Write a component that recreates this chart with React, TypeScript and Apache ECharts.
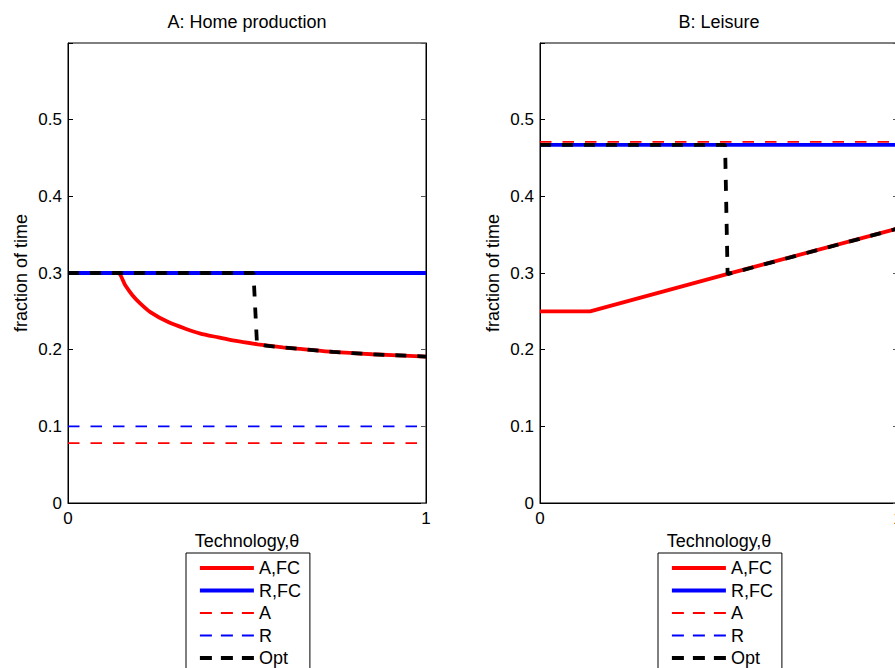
import React, { useEffect, useRef } from "react";
import * as echarts from "echarts";

const FONT = "'Liberation Sans', Arial, Helvetica, sans-serif";

const panelTitles = ["A: Home production", "B: Leisure"];
const xAxisName = "Technology,\u03b8";
const yAxisName = "fraction of time";
const seriesNames = ["A,FC", "R,FC", "A", "R", "Opt"];
const xTicks = [0, 1];
const yTicks = [0, 0.1, 0.2, 0.3, 0.4, 0.5];

// Panel A: Home production
const homeAfcTheta = [0, 0.14, 0.16, 0.18, 0.2, 0.23, 0.28, 0.33, 0.37, 0.42, 0.46, 0.53, 0.6, 0.65, 0.74, 0.85, 1];
const homeAfcValue = [0.3, 0.3, 0.284, 0.271, 0.261, 0.249, 0.236, 0.227, 0.221, 0.216, 0.212, 0.207, 0.203, 0.201, 0.197, 0.194, 0.191];
const homeFlatTheta = [0, 1];
const homeRfcValue = [0.3, 0.3];
const homeAValue = [0.078, 0.078];
const homeRValue = [0.1, 0.1];
const homeOptTheta = [0, 0.518, 0.528, 0.6, 0.65, 0.74, 0.85, 1];
const homeOptValue = [0.3, 0.3, 0.2065, 0.203, 0.201, 0.197, 0.194, 0.191];

// Panel B: Leisure
const leisAfcTheta = [0, 0.14, 0.53, 1];
const leisAfcValue = [0.25, 0.25, 0.2995, 0.358];
const leisFlatTheta = [0, 1];
const leisRfcValue = [0.467, 0.467];
const leisAValue = [0.471, 0.471];
const leisRValue = [0.467, 0.467];
const leisOptTheta = [0, 0.517, 0.524, 1];
const leisOptValue = [0.467, 0.467, 0.2985, 0.358];

const zip = (xs: number[], ys: number[]) => xs.map((x, i) => [x, ys[i]]);

const panels = [
  {
    afc: zip(homeAfcTheta, homeAfcValue),
    rfc: zip(homeFlatTheta, homeRfcValue),
    a: zip(homeFlatTheta, homeAValue),
    r: zip(homeFlatTheta, homeRValue),
    opt: zip(homeOptTheta, homeOptValue),
  },
  {
    afc: zip(leisAfcTheta, leisAfcValue),
    rfc: zip(leisFlatTheta, leisRfcValue),
    a: zip(leisFlatTheta, leisAValue),
    r: zip(leisFlatTheta, leisRValue),
    opt: zip(leisOptTheta, leisOptValue),
  },
];

const GRID_LEFT = [68, 540];
const GRID_TOP = 43;
const GRID_W = 358;
const GRID_H = 460;
const LEGEND_LEFT = [186, 658];

const THICK = 3.8;
const THIN = 1.8;
const seriesStyles: Record<string, { color: string; width: number; type: any; legendType: any }> = {
  "A,FC": { color: "#ff0000", width: THICK, type: "solid", legendType: "solid" },
  "R,FC": { color: "#0000ff", width: THICK, type: "solid", legendType: "solid" },
  A: { color: "#ff0000", width: THIN, type: [11.5, 11], legendType: [12, 9] },
  R: { color: "#0000ff", width: THIN, type: [11.5, 11], legendType: [12, 9] },
  Opt: { color: "#000000", width: THICK, type: [11, 11], legendType: [12, 9] },
};

export default function App() {
  const ref = useRef<HTMLDivElement>(null);
  useEffect(() => {
    if (!ref.current) return;
    const chart = echarts.init(ref.current, null, { renderer: "svg" });

    const grids = GRID_LEFT.map((l) => ({
      left: l,
      top: GRID_TOP,
      width: GRID_W,
      height: GRID_H,
      show: true,
      borderColor: "#000",
      borderWidth: 1,
      backgroundColor: "#fff",
      containLabel: false,
      outerBoundsMode: "none",
    }));

    const xAxes = GRID_LEFT.map((_, i) => ({
      type: "value",
      gridIndex: i,
      min: xTicks[0],
      max: xTicks[xTicks.length - 1],
      interval: 1,
      axisLine: { show: true, lineStyle: { color: "#000", width: 1 } },
      axisTick: { show: true, inside: true, length: 5, lineStyle: { color: "#000" } },
      splitLine: { show: false },
      axisLabel: {
        fontFamily: FONT,
        fontSize: 17,
        color: "#000",
        margin: 7,
        formatter: (v: number) => String(v),
      },
      name: xAxisName,
      nameLocation: "middle",
      nameGap: 29,
      nameTextStyle: { fontFamily: FONT, fontSize: 18, color: "#000" },
    }));

    const yAxes: any[] = [];
    GRID_LEFT.forEach((_, i) => {
      yAxes.push({
        type: "value",
        gridIndex: i,
        position: "left",
        min: 0,
        max: 0.6,
        interval: 0.1,
        axisLine: { show: true, lineStyle: { color: "#000", width: 1 } },
        axisTick: { show: true, inside: true, length: 5, lineStyle: { color: "#000" } },
        splitLine: { show: false },
        axisLabel: {
          fontFamily: FONT,
          fontSize: 17,
          color: "#000",
          margin: 6,
          formatter: (v: number) =>
            yTicks.some((t) => Math.abs(t - v) < 1e-6) ? String(Math.round(v * 10) / 10) : "",
        },
        name: yAxisName,
        nameLocation: "middle",
        nameGap: 38,
        nameTextStyle: { fontFamily: FONT, fontSize: 18, color: "#000" },
      });
      yAxes.push({
        type: "value",
        gridIndex: i,
        position: "right",
        min: 0,
        max: 0.6,
        interval: 0.1,
        axisLine: { show: true, lineStyle: { color: "#000", width: 1 } },
        axisTick: { show: true, inside: true, length: 5, lineStyle: { color: "#555" } },
        splitLine: { show: false },
        axisLabel: { show: false },
      });
    });

    const series: any[] = [];
    panels.forEach((p, i) => {
      const base = {
        type: "line",
        xAxisIndex: i,
        yAxisIndex: i * 2,
        symbol: "none",
        showSymbol: false,
        silent: true,
      };
      const mk = (name: string, data: number[][], extra: any = {}) => {
        const s = seriesStyles[name];
        return {
          ...base,
          ...extra,
          name,
          data,
          lineStyle: { color: s.color, width: s.width, type: s.type },
          itemStyle: { color: s.color },
        };
      };
      series.push(mk("A,FC", p.afc, { smooth: i === 0 ? 0.2 : false }));
      series.push(mk("R,FC", p.rfc));
      series.push(mk("A", p.a));
      series.push(mk("R", p.r));
      series.push(mk("Opt", p.opt));
    });

    const legends = LEGEND_LEFT.map((l) => ({
      orient: "vertical",
      left: l,
      top: 553,
      height: 160,
      data: seriesNames.map((n) => ({
        name: n,
        lineStyle: {
          color: seriesStyles[n].color,
          width: seriesStyles[n].width,
          type: seriesStyles[n].legendType,
          cap: "butt",
        },
      })),
      itemWidth: 54,
      itemHeight: 14,
      itemGap: 4.5,
      padding: [6, 9, 6, 12],
      borderColor: "#000",
      borderWidth: 1,
      borderRadius: 0,
      backgroundColor: "#fff",
      selectedMode: false,
      itemStyle: { opacity: 0 },
      textStyle: { fontFamily: FONT, fontSize: 18, color: "#000", lineHeight: 18 },
    }));

    chart.setOption({
      animation: false,
      backgroundColor: "#fff",
      grid: grids,
      xAxis: xAxes,
      yAxis: yAxes,
      series,
      legend: legends,
      graphic: panelTitles.map((t, i) => ({
        type: "text",
        x: GRID_LEFT[i] + GRID_W / 2,
        y: 22,
        style: {
          text: t,
          fontFamily: FONT,
          fontSize: 18,
          fill: "#000",
          textAlign: "center",
          textVerticalAlign: "middle",
        },
      })),
    });
    return () => chart.dispose();
  }, []);

  return (
    <div
      ref={ref}
      style={{ position: "absolute", left: 0, top: 0, width: 895, height: 668, overflow: "hidden" }}
    />
  );
}
